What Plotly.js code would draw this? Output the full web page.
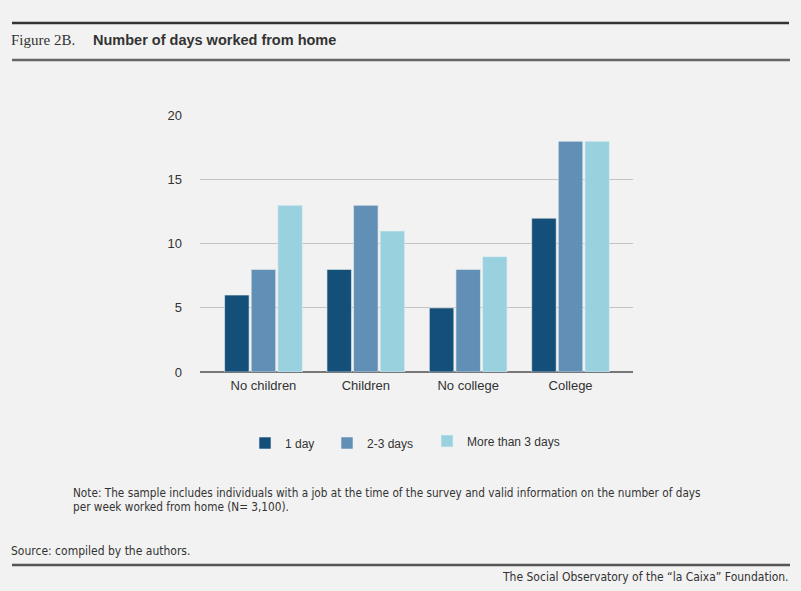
<!DOCTYPE html>
<html>
<head>
<meta charset="utf-8">
<script src="https://cdn.plot.ly/plotly-3.0.1.min.js"></script>
<style>
  html, body { margin: 0; padding: 0; background: #f2f2f2; }
  #chart { width: 801px; height: 591px; }
</style>
</head>
<body>
<div id="chart"></div>
<script>
// data
const groups = ['No children', 'Children', 'No college', 'College'];
const oneDay = [6, 8, 5, 12];
const twoThree = [8, 13, 8, 18];
const moreThree = [13, 11, 9, 18];
const seriesNames = ['1 day', '2-3 days', 'More than 3 days'];
const colors = ['#134f78', '#628fb5', '#99d2de'];

// plot box in pixels (left, right, top, bottom)
const L = 200, R = 633, T = 115, B = 372;
const px = x => (x - L) / (R - L);
const py = y => (B - y) / (B - T);

const font = 'Liberation Sans, Arial, sans-serif';
const narrow = 'DejaVu Sans Condensed, sans-serif';

const legendIds = ['legend', 'legend2', 'legend3'];
const traces = [oneDay, twoThree, moreThree].map((vals, i) => ({
  x: groups, y: vals, type: 'bar', name: seriesNames[i],
  legend: legendIds[i],
  marker: {color: colors[i], line: {color: '#e8eef2', width: 0.6}},
  hoverinfo: 'y'
}));

// one legend box per series so each entry sits where the original has it
const legendAt = (x, y) => ({
  orientation: 'h', x: px(x - 14), y: py(y), yanchor: 'middle', xanchor: 'left',
  font: {family: font, size: 12, color: '#333'}, bgcolor: 'rgba(0,0,0,0)',
  itemwidth: 30
});

const hline = (y, x0, x1, color, w) => ({
  type: 'line', xref: 'paper', yref: 'paper',
  x0: px(x0), x1: px(x1), y0: py(y), y1: py(y),
  line: {color: color, width: w}
});

const note = (x, y, text, f, size, anchor) => ({
  xref: 'paper', yref: 'paper', x: px(x), y: py(y),
  xanchor: anchor || 'left', yanchor: 'middle', showarrow: false,
  text: text, font: {family: f, size: size, color: '#333'}
});

Plotly.newPlot('chart', traces, {
  width: 801, height: 591,
  paper_bgcolor: '#f2f2f2', plot_bgcolor: '#f2f2f2',
  margin: {l: L, r: 801 - R, t: T, b: 591 - B},
  barmode: 'group', bargap: 0.22, bargroupgap: 0.08,
  font: {family: font, size: 12, color: '#333'},
  xaxis: {
    range: [-0.62, 3.61], showgrid: false, showline: false,
    ticklabelstandoff: 4,
    tickfont: {size: 13, color: '#333'}, fixedrange: true
  },
  yaxis: {
    range: [0, 20.05], tickvals: [0, 5, 10, 15, 20],
    gridcolor: '#c4c4c4', gridwidth: 1,
    zeroline: true, zerolinecolor: '#777', zerolinewidth: 2,
    ticklabelstandoff: 17, tickfont: {size: 13, color: '#333'}, fixedrange: true
  },
  showlegend: true,
  legend: legendAt(259, 443),
  legend2: legendAt(341, 443),
  legend3: legendAt(441, 441),
  shapes: [
    hline(23, 12, 789, '#333', 2.5),
    hline(60, 12, 790, '#666', 2.5),
    hline(565, 12, 790, '#555', 2.5)
  ],
  annotations: [
    note(9, 40, 'Figure 2B.', 'Liberation Serif, serif', 15),
    note(91, 40, '<b>Number of days worked from home</b>', font, 14.5),
    note(71, 493, 'Note: The sample includes individuals with a job at the time of the survey and valid information on the number of days', narrow, 11.7),
    note(71, 507, 'per week worked from home (N= 3,100).', narrow, 11.7),
    note(9, 551, 'Source: compiled by the authors.', narrow, 12),
    note(791, 577, 'The Social Observatory of the “la Caixa” Foundation.', narrow, 12, 'right')
  ]
}, {displayModeBar: false, staticPlot: true});
</script>
</body>
</html>
